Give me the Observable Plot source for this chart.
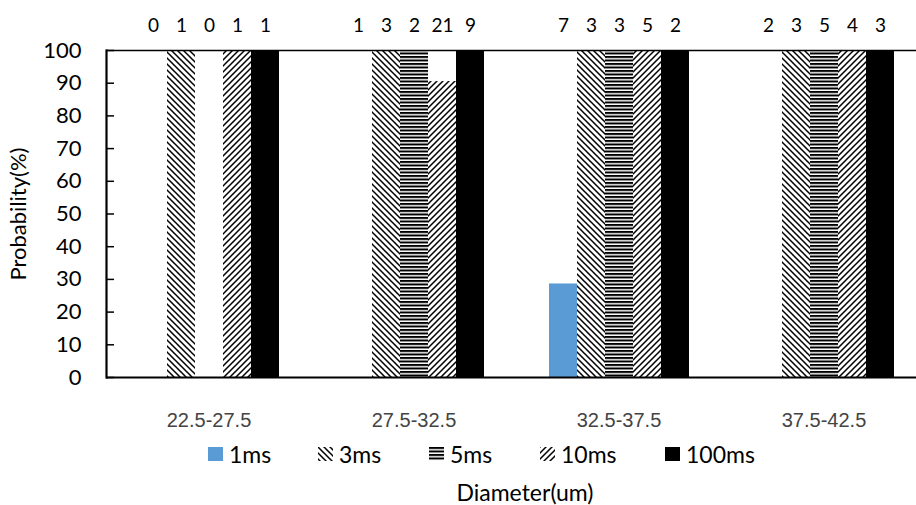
<!DOCTYPE html>
<html>
<head>
<meta charset="utf-8">
<script src="https://cdn.jsdelivr.net/npm/d3@7"></script>
<script src="https://cdn.jsdelivr.net/npm/@observablehq/plot@0.6"></script>
<style>
  body { margin: 0; background: #fff; width: 916px; overflow: hidden; }
  #chart svg { display: block; }
  #legend { height: 38px; display: flex; align-items: center; padding-left: 208px; font-family: Lato, sans-serif; font-size: 23px; color: #000; }
  #legend .item { display: flex; align-items: center; }
  #legend .item svg { margin-right: 6px; display: block; }
  #legend .item:nth-child(1) { width: 110px; }
  #legend .item:nth-child(2) { width: 111px; }
  #legend .item:nth-child(3) { width: 111px; }
  #legend .item:nth-child(4) { width: 125px; }
  #xtitle { height: 38px; line-height: 38px; padding-left: 134px; text-align: center; font-family: Lato, sans-serif; font-size: 23px; color: #000; }
</style>
</head>
<body>
<svg width="0" height="0" style="position:absolute">
  <defs>
    <pattern id="pat3" width="6" height="6" patternUnits="userSpaceOnUse">
      <rect width="6" height="6" fill="#fff"/>
      <path d="M-1,-1L7,7M-1,5L1,7M5,-1L7,1" stroke="#000" stroke-width="1.5"/>
    </pattern>
    <pattern id="pat5" width="4" height="3.5" patternUnits="userSpaceOnUse">
      <rect width="4" height="3.5" fill="#fff"/>
      <rect width="4" height="2" fill="#000"/>
    </pattern>
    <pattern id="pat10" width="6" height="6" patternUnits="userSpaceOnUse">
      <rect width="6" height="6" fill="#fff"/>
      <path d="M-1,7L7,-1M-1,1L1,-1M5,7L7,5" stroke="#000" stroke-width="1.5"/>
    </pattern>
  </defs>
</svg>
<div id="chart"></div>
<div id="legend"></div>
<div id="xtitle">Diameter(um)</div>
<script>
const groups = ["22.5-27.5", "27.5-32.5", "32.5-37.5", "37.5-42.5"];
const series = ["1ms", "3ms", "5ms", "10ms", "100ms"];

// Probability (%) per series, one value per diameter group
const values1ms = [0, 0, 28.6, 0];
const values3ms = [100, 100, 100, 100];
const values5ms = [0, 100, 100, 100];
const values10ms = [100, 90.5, 100, 100];
const values100ms = [100, 100, 100, 100];

// Sample counts shown above each bar
const counts1ms = [0, 1, 7, 2];
const counts3ms = [1, 3, 3, 3];
const counts5ms = [0, 2, 3, 5];
const counts10ms = [1, 21, 5, 4];
const counts100ms = [1, 9, 2, 3];

const seriesFills = ["#5B9BD5", "url(#pat3)", "url(#pat5)", "url(#pat10)", "#000000"];

const valuesBySeries = [values1ms, values3ms, values5ms, values10ms, values100ms];
const countsBySeries = [counts1ms, counts3ms, counts5ms, counts10ms, counts100ms];
const data = series.flatMap((s, i) => groups.map((g, j) => ({
  group: g, series: s, value: valuesBySeries[i][j], count: countsBySeries[i][j]
})));

const chart = Plot.plot({
  width: 916,
  height: 435,
  marginLeft: 105,
  marginRight: -10,
  marginTop: 50,
  marginBottom: 58,
  style: {fontFamily: "Lato, sans-serif", background: "white", color: "#000"},
  fx: {domain: groups, padding: 0, label: null},
  x: {domain: series, paddingInner: 0, paddingOuter: 1.088, axis: null},
  y: {domain: [0, 100]},
  color: {domain: series, range: seriesFills},
  marks: [
    Plot.barY(data, {fx: "group", x: "series", y: "value", fill: "series"}),
    Plot.ruleY([0], {stroke: "#000", strokeWidth: 2.2}),
    Plot.ruleY([100], {stroke: "#000", strokeWidth: 1.6}),
    Plot.frame({anchor: "left", facetAnchor: "left", stroke: "#000", strokeWidth: 2.2}),
    Plot.axisY({ticks: 10, tickSize: 8, dx: 8, tickFormat: () => "", strokeWidth: 1.5, label: null}),
    Plot.axisY({ticks: 10, tickSize: 0, tickPadding: 25, fontSize: 22, fontFamily: "Lato, sans-serif",
      label: "Probability(%)", labelAnchor: "center", labelOffset: 96, labelArrow: "none"}),
    Plot.axisFx({anchor: "bottom", tickSize: 0, tickPadding: 35, fontSize: 20,
      fontFamily: "'Liberation Sans', Arial, sans-serif", color: "#444", label: null}),
    Plot.text(data, {fx: "group", x: "series", frameAnchor: "top", lineAnchor: "middle", dy: -25,
      text: "count", fontSize: 19, fill: "#000"})
  ]
});
document.getElementById("chart").appendChild(chart);

// Legend
const legend = document.getElementById("legend");
series.forEach((s, i) => {
  const item = document.createElement("div");
  item.className = "item";
  item.innerHTML = `<svg width="15" height="14"><rect width="15" height="14" fill="${seriesFills[i]}"/></svg><span>${s}</span>`;
  legend.appendChild(item);
});
</script>
</body>
</html>
